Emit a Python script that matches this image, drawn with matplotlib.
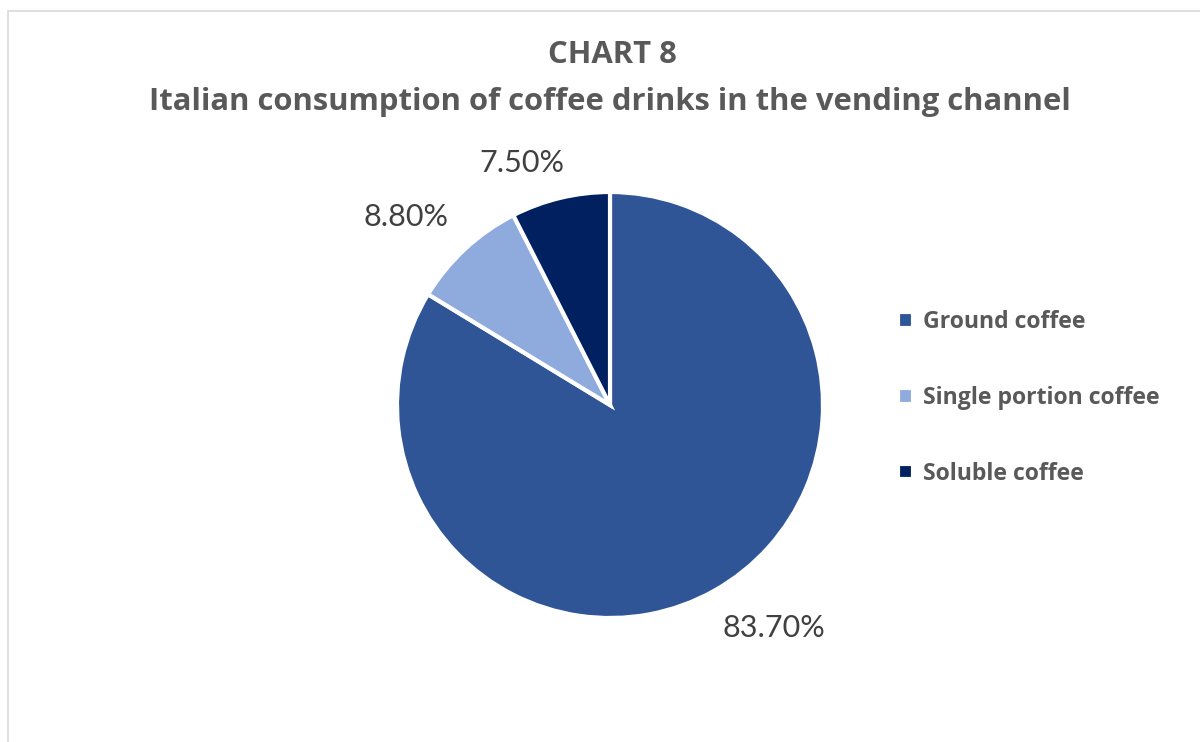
import numpy as np
import matplotlib.pyplot as plt
from matplotlib.patches import Rectangle

# Données
categories = ["Ground coffee", "Single portion coffee", "Soluble coffee"]
shares = [83.7, 8.8, 7.5]
pct_labels = ["83.70%", "8.80%", "7.50%"]
colors = ["#2F5597", "#8FAADC", "#002060"]

plt.rcParams['font.family'] = ['Lato', 'DejaVu Sans']

fig = plt.figure(figsize=(12, 7.42), dpi=100)

# cadre gris du graphique
fig.patches.append(Rectangle((8/1200, -0.05), 1.2, 1 - 11/742 + 0.05, transform=fig.transFigure,
                             fill=False, edgecolor="#D9D9D9", linewidth=1.2))

fig.text(0.51, 1 - 55/742, "CHART 8", ha="center", va="center", fontsize=22.3,
         fontweight="bold", family="Open Sans", color="#595959")
fig.text(0.508, 1 - 102/742, "Italian consumption of coffee drinks in the vending channel",
         ha="center", va="center", fontsize=22.3, fontweight="bold", family="Open Sans",
         color="#595959")

ax = fig.add_axes([(610-213)/1200, (742-618)/742, 426/1200, 426/742])
wedges, _ = ax.pie(shares, colors=colors, startangle=90, counterclock=False,
                   wedgeprops=dict(edgecolor="white", linewidth=3))
ax.set_xlim(-1, 1)
ax.set_ylim(-1, 1)
ax.set_aspect("equal")

# étiquettes des pourcentages (décalage angulaire façon Excel)
offsets = [7, 4.5, 6.5]
dists = [1.30, 1.30, 1.21]
for w, lab, off, d in zip(wedges, pct_labels, offsets, dists):
    ang = np.deg2rad((w.theta1 + w.theta2) / 2 + off)
    ax.text(d*np.cos(ang), d*np.sin(ang), lab, ha="center", va="center",
            fontsize=22, color="#404040", clip_on=False)

leg = fig.legend(wedges, categories, loc="center left", bbox_to_anchor=(877/1200, 1 - 398/742),
                 frameon=False, handlelength=0.65, handleheight=0.65, handletextpad=0.45,
                 labelspacing=2.25, prop=dict(size=16.6, weight="bold", family="Open Sans"))
for t in leg.get_texts():
    t.set_color("#595959")

fig.savefig("out.png", dpi=100)
